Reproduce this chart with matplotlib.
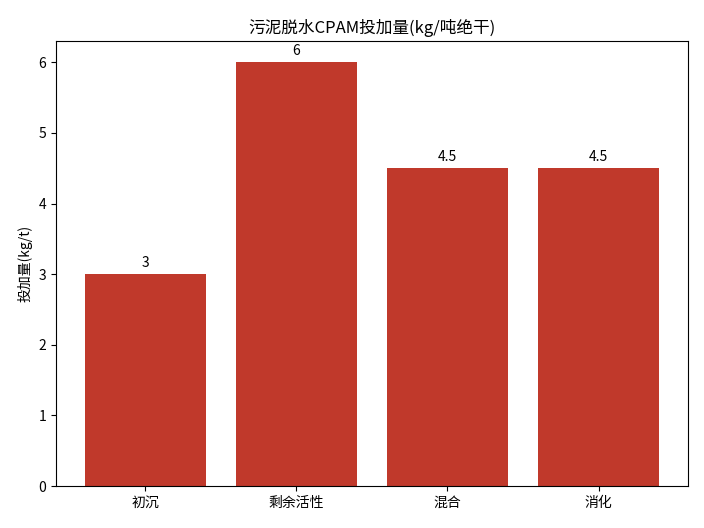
import matplotlib
matplotlib.use('Agg')
import matplotlib.pyplot as plt

plt.rcParams['font.family'] = ['Noto Sans CJK SC', 'DejaVu Sans']
plt.rcParams['axes.unicode_minus'] = False

categories = ['初沉', '剩余活性', '混合', '消化']
dosage = [3, 6, 4.5, 4.5]
labels = ['3', '6', '4.5', '4.5']

fig, ax = plt.subplots(figsize=(7.04, 5.28), dpi=100)
fig.subplots_adjust(left=0.0795, right=0.977, top=0.922, bottom=0.0795)

bars = ax.bar(categories, dosage, color='#c0392b')
ax.bar_label(bars, labels=labels, padding=3)

ax.set_title('污泥脱水CPAM投加量(kg/吨绝干)')
ax.set_ylabel('投加量(kg/t)')

plt.savefig('out.png', dpi=100)
